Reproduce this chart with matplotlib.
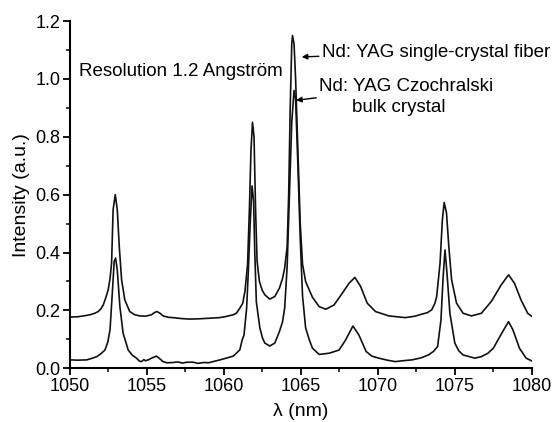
import matplotlib
matplotlib.use("Agg")
import matplotlib.pyplot as plt
from matplotlib.ticker import MultipleLocator, FormatStrFormatter

plt.rcParams['font.family'] = ['Liberation Sans', 'DejaVu Sans']

# Nd:YAG single-crystal fiber (upper curve)
fiber_nm = [1050.0, 1050.5, 1051.0, 1051.3, 1051.6, 1051.83, 1052.0, 1052.16, 1052.3, 1052.48,
            1052.6, 1052.7, 1052.8, 1052.94, 1053.07, 1053.2, 1053.35, 1053.56, 1053.88, 1054.2,
            1054.53, 1054.9, 1055.29, 1055.5, 1055.65, 1055.85, 1056.04, 1056.4, 1056.7, 1057.2,
            1057.77, 1058.4, 1059.07, 1059.7, 1060.14, 1060.6, 1060.8, 1061.03, 1061.22, 1061.36,
            1061.53, 1061.65, 1061.75, 1061.85, 1061.95, 1062.05, 1062.15, 1062.3, 1062.48, 1062.65,
            1062.97, 1063.3, 1063.6, 1063.8, 1063.94, 1064.1, 1064.2, 1064.3, 1064.4, 1064.45,
            1064.55, 1064.65, 1064.8, 1064.95, 1065.1, 1065.3, 1065.54, 1065.75, 1066.18, 1066.61,
            1067.15, 1067.69, 1068.12, 1068.5, 1068.87, 1069.3, 1069.84, 1070.7, 1071.77, 1072.4,
            1072.84, 1073.2, 1073.49, 1073.7, 1073.81, 1074.03, 1074.18, 1074.3, 1074.45, 1074.6,
            1074.78, 1075.1, 1075.53, 1076.07, 1076.71, 1077.36, 1078.0, 1078.48, 1078.86, 1079.29,
            1079.72, 1080.0]
fiber_int = [0.177, 0.178, 0.182, 0.185, 0.19, 0.196, 0.205, 0.219, 0.24, 0.271,
             0.31, 0.363, 0.548, 0.600, 0.548, 0.42, 0.306, 0.236, 0.196, 0.185,
             0.181, 0.180, 0.185, 0.193, 0.196, 0.19, 0.181, 0.176, 0.175, 0.172,
             0.17, 0.171, 0.173, 0.175, 0.179, 0.185, 0.19, 0.208, 0.225, 0.266,
             0.358, 0.55, 0.75, 0.85, 0.80, 0.55, 0.37, 0.30, 0.27, 0.254,
             0.239, 0.248, 0.277, 0.31, 0.346, 0.42, 0.6, 0.9, 1.12, 1.15,
             1.12, 1.0, 0.75, 0.5, 0.36, 0.30, 0.27, 0.245, 0.213, 0.204,
             0.219, 0.26, 0.294, 0.314, 0.283, 0.225, 0.196, 0.181, 0.175, 0.180,
             0.187, 0.192, 0.202, 0.225, 0.248, 0.363, 0.513, 0.573, 0.536, 0.42,
             0.306, 0.225, 0.19, 0.181, 0.19, 0.231, 0.288, 0.323, 0.294, 0.236,
             0.19, 0.179]

# Nd:YAG Czochralski bulk crystal (lower curve)
bulk_nm = [1050.0, 1050.5, 1051.08, 1051.4, 1051.73, 1052.0, 1052.27, 1052.45, 1052.6, 1052.76,
           1052.87, 1052.96, 1053.07, 1053.24, 1053.45, 1053.78, 1054.05, 1054.32, 1054.5, 1054.64,
           1054.8, 1054.9, 1055.07, 1055.3, 1055.61, 1055.85, 1056.04, 1056.3, 1056.7, 1057.0,
           1057.3, 1057.6, 1057.99, 1058.3, 1058.7, 1059.0, 1059.28, 1059.74, 1060.14, 1060.6,
           1060.8, 1061.03, 1061.18, 1061.3, 1061.47, 1061.58, 1061.7, 1061.82, 1061.92, 1062.0,
           1062.1, 1062.33, 1062.5, 1062.65, 1062.97, 1063.3, 1063.6, 1063.8, 1063.94, 1064.1,
           1064.25, 1064.4, 1064.55, 1064.65, 1064.8, 1064.95, 1065.1, 1065.3, 1065.54, 1065.75,
           1066.18, 1066.5, 1066.83, 1067.47, 1067.9, 1068.37, 1068.76, 1069.23, 1069.6, 1070.05,
           1070.6, 1071.12, 1071.6, 1072.2, 1072.8, 1073.27, 1073.6, 1073.87, 1074.09, 1074.22,
           1074.35, 1074.48, 1074.67, 1074.99, 1075.25, 1075.53, 1076.28, 1076.7, 1077.14, 1077.5,
           1077.79, 1078.22, 1078.48, 1078.76, 1079.19, 1079.62, 1080.0]
bulk_int = [0.029, 0.028, 0.029, 0.034, 0.04, 0.05, 0.063, 0.09, 0.133, 0.271,
            0.369, 0.381, 0.34, 0.213, 0.121, 0.063, 0.045, 0.035, 0.025, 0.023,
            0.03, 0.026, 0.029, 0.035, 0.042, 0.032, 0.023, 0.019, 0.02, 0.022,
            0.018, 0.021, 0.021, 0.017, 0.02, 0.019, 0.023, 0.029, 0.035, 0.042,
            0.052, 0.064, 0.098, 0.115, 0.208, 0.335, 0.5, 0.63, 0.58, 0.4,
            0.23, 0.139, 0.105, 0.087, 0.077, 0.087, 0.127, 0.16, 0.208, 0.35,
            0.6, 0.85, 0.96, 0.93, 0.7, 0.45, 0.25, 0.14, 0.098, 0.069,
            0.048, 0.05, 0.052, 0.063, 0.098, 0.146, 0.115, 0.058, 0.042, 0.035,
            0.028, 0.023, 0.026, 0.029, 0.036, 0.046, 0.058, 0.075, 0.167, 0.306,
            0.409, 0.329, 0.19, 0.087, 0.06, 0.046, 0.035, 0.04, 0.052, 0.07,
            0.098, 0.138, 0.161, 0.133, 0.069, 0.035, 0.025]

x_ticks = [1050, 1055, 1060, 1065, 1070, 1075, 1080]
y_ticks = [0.0, 0.2, 0.4, 0.6, 0.8, 1.0, 1.2]

fig = plt.figure(figsize=(5.56, 4.22), dpi=100)
ax = fig.add_axes([0.1259, 0.1273, 0.8309, 0.8229])

ax.plot(fiber_nm, fiber_int, color='#111111', lw=1.2)
ax.plot(bulk_nm, bulk_int, color='#111111', lw=1.2)

ax.set_xlim(1050, 1080)
ax.set_ylim(0, 1.2)
ax.set_xticks(x_ticks)
ax.set_yticks(y_ticks)
ax.xaxis.set_minor_locator(MultipleLocator(2.5))
ax.yaxis.set_minor_locator(MultipleLocator(0.1))
ax.yaxis.set_major_formatter(FormatStrFormatter('%.1f'))
for s in ['top', 'right']:
    ax.spines[s].set_visible(False)
for s in ['left', 'bottom']:
    ax.spines[s].set_linewidth(1.5)
ax.tick_params(which='major', direction='out', length=5, width=1.3, labelsize=13, pad=2)
ax.tick_params(which='minor', direction='out', length=3, width=1.1)

ax.set_xlabel('λ (nm)', fontsize=14, labelpad=6)
ax.set_ylabel('Intensity (a.u.)', fontsize=14, labelpad=4)

ax.text(1050.6, 1.027, 'Resolution 1.2 Angström', fontsize=13.5, va='center', ha='left')
ax.annotate('Nd: YAG single-crystal fiber', xy=(1065.05, 1.076), xytext=(1066.34, 1.092),
            fontsize=13.5, va='center', ha='left',
            arrowprops=dict(arrowstyle='-|>', color='black', lw=1.0, mutation_scale=8,
                            shrinkA=0, shrinkB=0))
ax.annotate('Nd: YAG Czochralski', xy=(1064.68, 0.926), xytext=(1066.17, 0.973),
            fontsize=13.5, va='center', ha='left',
            arrowprops=dict(arrowstyle='-|>', color='black', lw=1.0, mutation_scale=8,
                            shrinkA=0, shrinkB=0))
ax.text(1068.29, 0.9, 'bulk crystal', fontsize=13.5, va='center', ha='left')

fig.savefig('out.png', dpi=100)
